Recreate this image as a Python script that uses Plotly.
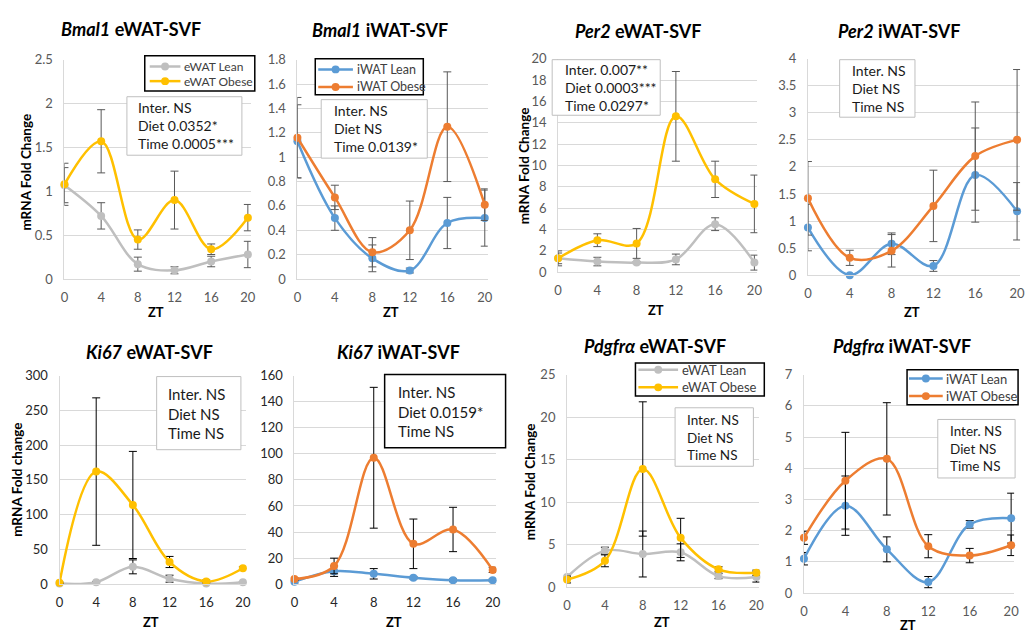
import plotly.graph_objects as go

# ---------------- data ----------------
ZT = [0, 4, 8, 12, 16, 20]

bmal1_ewat_lean = [1.07, 0.72, 0.17, 0.10, 0.20, 0.28]
bmal1_ewat_lean_err = [0.20, 0.15, 0.08, 0.04, 0.06, 0.15]
bmal1_ewat_obese = [1.08, 1.57, 0.45, 0.90, 0.34, 0.70]
bmal1_ewat_obese_err = [0.24, 0.36, 0.11, 0.33, 0.06, 0.15]

bmal1_iwat_lean = [1.13, 0.50, 0.17, 0.07, 0.46, 0.50]
bmal1_iwat_lean_err = [0.30, 0.10, 0.11, 0.02, 0.21, 0.23]
bmal1_iwat_obese = [1.16, 0.67, 0.22, 0.40, 1.25, 0.61]
bmal1_iwat_obese_err = [0.33, 0.10, 0.12, 0.24, 0.45, 0.13]

per2_ewat_lean = [1.3, 1.0, 0.9, 1.2, 4.5, 0.9]
per2_ewat_lean_err = [0.7, 0.4, 0.1, 0.5, 0.6, 0.7]
per2_ewat_obese = [1.3, 3.0, 2.7, 14.6, 8.7, 6.4]
per2_ewat_obese_err = [0.5, 0.6, 1.4, 4.2, 1.7, 2.7]

per2_iwat_lean = [0.88, 0.0, 0.58, 0.17, 1.85, 1.18]
per2_iwat_lean_err = [0.43, 0.02, 0.20, 0.10, 0.87, 0.53]
per2_iwat_obese = [1.42, 0.32, 0.45, 1.28, 2.20, 2.50]
per2_iwat_obese_err = [0.68, 0.14, 0.30, 0.66, 1.00, 1.30]

ki67_ewat_lean = [1, 3, 25, 8, 1, 3]
ki67_ewat_lean_err = [0, 1, 10, 5, 1, 1]
ki67_ewat_obese = [2, 162, 114, 32, 4, 23]
ki67_ewat_obese_err = [1, 106, 77, 8, 2, 2]

ki67_iwat_lean = [2, 10, 8, 5, 3, 3]
ki67_iwat_lean_err = [1, 4, 4, 1, 1, 1]
ki67_iwat_obese = [4, 14, 97, 31, 42, 11]
ki67_iwat_obese_err = [1, 6, 54, 19, 17, 2]

pdgfra_ewat_lean = [1.2, 4.3, 3.9, 4.1, 1.3, 1.2]
pdgfra_ewat_lean_err = [0.3, 0.4, 2.7, 1.0, 0.3, 0.6]
pdgfra_ewat_obese = [0.9, 3.1, 13.9, 5.8, 2.1, 1.7]
pdgfra_ewat_obese_err = [0.4, 0.7, 7.9, 2.3, 0.3, 0.3]

pdgfra_iwat_lean = [1.1, 2.8, 1.4, 0.35, 2.2, 2.4]
pdgfra_iwat_lean_err = [0.2, 0.95, 0.4, 0.18, 0.12, 0.8]
pdgfra_iwat_obese = [1.77, 3.6, 4.3, 1.5, 1.2, 1.53]
pdgfra_iwat_obese_err = [0.21, 1.55, 1.8, 0.37, 0.23, 0.33]

titles = ["<b><i>Bmal1</i> eWAT-SVF</b>", "<b><i>Bmal1</i> iWAT-SVF</b>",
          "<b><i>Per2</i> eWAT-SVF</b>", "<b><i>Per2</i> iWAT-SVF</b>",
          "<b><i>Ki67</i> eWAT-SVF</b>", "<b><i>Ki67</i> iWAT-SVF</b>",
          "<b><i>Pdgfrα</i> eWAT-SVF</b>", "<b><i>Pdgfrα</i> iWAT-SVF</b>"]
stats_texts = ["Inter. NS<br>Diet 0.0352*<br>Time 0.0005***",
               "Inter. NS<br>Diet NS<br>Time 0.0139*",
               "Inter. 0.007**<br>Diet 0.0003***<br>Time 0.0297*",
               "Inter. NS<br>Diet NS<br>Time NS",
               "Inter. NS<br>Diet NS<br>Time NS",
               "Inter. NS<br>Diet 0.0159*<br>Time NS",
               "Inter. NS<br>Diet NS<br>Time NS",
               "Inter. NS<br>Diet NS<br>Time NS"]
ylabels = ["mRNA Fold Change", None, "mRNA Fold Change", None,
           "mRNA Fold change", None, "mRNA Fold Change", None]
names_e = ["eWAT Lean", "eWAT Obese"]
names_i = ["iWAT Lean", "iWAT Obese"]

# ---------------- styling ----------------
W, H = 1031, 641
FONT = "Lato"
GRAY, GOLD, BLUE, ORANGE = "#BFBFBF", "#FFC000", "#5B9BD5", "#ED7D31"
GRID = "#D9D9D9"
BOXC = "#BFBFBF"


def fx(x):
    return x / W


def fy(y):
    return 1 - y / H


panels = [
    dict(x0=61, x20=246, y0=278, ytop=53, ymax=2.5, dtick=0.5, tx=128, ty=22, zty=312,
         ser=[(names_e[0], bmal1_ewat_lean, bmal1_ewat_lean_err, GRAY),
              (names_e[1], bmal1_ewat_obese, bmal1_ewat_obese_err, GOLD)],
         leg=dict(box=(142, 49, 253, 85), l0=147, l1=178, rows=(60, 75), tx=180, fs=12),
         box=(124, 91, 240, 151), tl=133, fs=14, bc=BOXC, bw=1,
         yl=(22, 168), tick="#595959", err="#595959"),
    dict(x0=296, x20=485, y0=278, ytop=53, ymax=1.8, dtick=0.2, tx=379, ty=23, zty=312,
         ser=[(names_i[0], bmal1_iwat_lean, bmal1_iwat_lean_err, BLUE),
              (names_i[1], bmal1_iwat_obese, bmal1_iwat_obese_err, ORANGE)],
         leg=dict(box=(314, 52, 423, 89), l0=317, l1=352, rows=(63, 81), tx=354, fs=12.5),
         box=(320, 94, 427, 154), tl=331, fs=14, bc=BOXC, bw=1,
         yl=None, tick="#595959", err="#595959"),
    dict(x0=559, x20=757, y0=271, ytop=52, ymax=20, dtick=2, tx=640, ty=24, zty=310,
         ser=[(names_e[0], per2_ewat_lean, per2_ewat_lean_err, GRAY),
              (names_e[1], per2_ewat_obese, per2_ewat_obese_err, GOLD)],
         leg=None, box=(553, 53, 662, 110), tl=564, fs=14, bc=BOXC, bw=1,
         yl=(525, 162), tick="#595959", err="#595959"),
    dict(x0=811, x20=1022, y0=274, ytop=52, ymax=4, dtick=0.5, tx=903, ty=24, zty=312,
         ser=[(names_i[0], per2_iwat_lean, per2_iwat_lean_err, BLUE),
              (names_i[1], per2_iwat_obese, per2_iwat_obese_err, ORANGE)],
         leg=None, box=(843, 53, 919, 112), tl=853, fs=14, bc=BOXC, bw=1,
         yl=None, tick="#595959", err="#595959"),
    dict(x0=56, x20=241, y0=591, ytop=377, ymax=300, dtick=50, tx=147, ty=353, zty=630,
         ser=[(names_e[0], ki67_ewat_lean, ki67_ewat_lean_err, GRAY),
              (names_e[1], ki67_ewat_obese, ki67_ewat_obese_err, GOLD)],
         leg=None, box=(154, 378, 239, 453), tl=163, fs=15, bc=BOXC, bw=1,
         yl=(13, 484), tick="#262626", err="#000000"),
    dict(x0=293, x20=493, y0=591, ytop=377, ymax=160, dtick=20, tx=398, ty=353, zty=630,
         ser=[(names_i[0], ki67_iwat_lean, ki67_iwat_lean_err, BLUE),
              (names_i[1], ki67_iwat_obese, ki67_iwat_obese_err, ORANGE)],
         leg=None, box=(384, 376, 506, 451), tl=395, fs=15, bc="#000000", bw=1.5,
         yl=None, tick="#262626", err="#000000"),
    dict(x0=568, x20=759, y0=594, ytop=376, ymax=25, dtick=5, tx=657, ty=347, zty=630,
         ser=[(names_e[0], pdgfra_ewat_lean, pdgfra_ewat_lean_err, GRAY),
              (names_e[1], pdgfra_ewat_obese, pdgfra_ewat_obese_err, GOLD)],
         leg=dict(box=(637, 364, 767, 398), l0=640, l1=680, rows=(371, 389), tx=682, fs=13),
         box=(677, 410, 756, 470), tl=687, fs=13.5, bc=BOXC, bw=1,
         yl=(530, 486), tick="#595959", err="#000000"),
    dict(x0=807, x20=1016, y0=600, ytop=376, ymax=7, dtick=1, tx=906, ty=347, zty=633,
         ser=[(names_i[0], pdgfra_iwat_lean, pdgfra_iwat_lean_err, BLUE),
              (names_i[1], pdgfra_iwat_obese, pdgfra_iwat_obese_err, ORANGE)],
         leg=dict(box=(911, 371, 1023, 407), l0=913, l1=947, rows=(380, 398), tx=948, fs=13),
         box=(942, 422, 1020, 482), tl=952, fs=13.5, bc=BOXC, bw=1,
         yl=None, tick="#595959", err="#000000"),
]

fig = go.Figure()
layout = dict(width=W, height=H, margin=dict(l=0, r=0, t=0, b=0),
              paper_bgcolor="white", plot_bgcolor="white",
              font=dict(family=FONT), showlegend=False)
annotations = []
shapes = []

for i, p in enumerate(panels, start=1):
    xr_px = min(p["x20"] + 3, W)
    xmax = 20 * (xr_px - p["x0"]) / (p["x20"] - p["x0"])
    layout[f"xaxis{i}"] = dict(
        domain=[fx(p["x0"]), fx(xr_px)], range=[0, xmax], anchor=f"y{i}",
        tickmode="array", tickvals=ZT, showgrid=False, zeroline=False,
        showline=True, linecolor=GRID, linewidth=1, ticks="",
        ticklabelstandoff=6, tickfont=dict(size=13, color=p["tick"], family=FONT))
    layout[f"yaxis{i}"] = dict(
        domain=[fy(p["y0"]), fy(p["ytop"])], range=[0, p["ymax"]], anchor=f"x{i}",
        dtick=p["dtick"], tick0=0, showgrid=True, gridcolor=GRID, gridwidth=1,
        zeroline=False, showline=True, linecolor=GRID, linewidth=1, ticks="",
        ticklabelstandoff=8, tickfont=dict(size=13, color=p["tick"], family=FONT))

    for name, vals, errs, col in p["ser"]:
        fig.add_trace(go.Scatter(
            x=ZT, y=vals, name=name, mode="lines+markers",
            line=dict(color=col, width=2.5, shape="spline", smoothing=1.0),
            marker=dict(color=col, size=8),
            error_y=dict(type="data", array=errs, visible=True, color=p["err"],
                         thickness=1, width=4),
            xaxis=f"x{i}", yaxis=f"y{i}", cliponaxis=False, showlegend=False))

    # title
    annotations.append(dict(x=fx(p["tx"]), y=fy(p["ty"]), xref="paper", yref="paper",
                            text=titles[i - 1], showarrow=False, xanchor="center",
                            yanchor="middle", font=dict(size=18, color="black", family=FONT)))
    # x title
    annotations.append(dict(x=fx((p["x0"] + p["x20"]) / 2), y=fy(p["zty"]), xref="paper",
                            yref="paper", text="<b>ZT</b>", showarrow=False,
                            xanchor="center", yanchor="middle",
                            font=dict(size=13, color="black", family=FONT)))
    # y title
    if p["yl"] is not None:
        annotations.append(dict(x=fx(p["yl"][0]), y=fy(p["yl"][1]), xref="paper",
                                yref="paper", text=f"<b>{ylabels[i - 1]}</b>",
                                showarrow=False, textangle=-90, xanchor="center",
                                yanchor="middle",
                                font=dict(size=13.5, color="black", family=FONT)))
    # stats box
    bx0, by0, bx1, by1 = p["box"]
    shapes.append(dict(type="rect", xref="paper", yref="paper", x0=fx(bx0), x1=fx(bx1),
                       y0=fy(by1), y1=fy(by0), fillcolor="white",
                       line=dict(color=p["bc"], width=p["bw"]), layer="above"))
    annotations.append(dict(x=fx(p["tl"]), y=fy((by0 + by1) / 2), xref="paper", yref="paper",
                            text=stats_texts[i - 1], showarrow=False, align="left",
                            xanchor="left", yanchor="middle",
                            font=dict(size=p["fs"], color="#1a1a1a", family=FONT)))

    # legend (drawn manually)
    lg = p["leg"]
    if lg is not None:
        lx0, ly0, lx1, ly1 = lg["box"]
        shapes.append(dict(type="rect", xref="paper", yref="paper", x0=fx(lx0), x1=fx(lx1),
                           y0=fy(ly1), y1=fy(ly0), fillcolor="white",
                           line=dict(color="black", width=1.5), layer="above"))
        for (name, vals, errs, col), ry in zip(p["ser"], lg["rows"]):
            shapes.append(dict(type="line", xref="paper", yref="paper",
                               x0=fx(lg["l0"]), x1=fx(lg["l1"]), y0=fy(ry), y1=fy(ry),
                               line=dict(color=col, width=2.5), layer="above"))
            cx = (lg["l0"] + lg["l1"]) / 2
            shapes.append(dict(type="circle", xref="paper", yref="paper",
                               x0=fx(cx - 4), x1=fx(cx + 4), y0=fy(ry + 4), y1=fy(ry - 4),
                               fillcolor=col, line=dict(color=col, width=0), layer="above"))
            annotations.append(dict(x=fx(lg["tx"]), y=fy(ry), xref="paper", yref="paper",
                                    text=name, showarrow=False, xanchor="left",
                                    yanchor="middle",
                                    font=dict(size=lg["fs"], color="#404040", family=FONT)))

layout["annotations"] = annotations
layout["shapes"] = shapes
fig.update_layout(**layout)
fig.write_html("out.html")
